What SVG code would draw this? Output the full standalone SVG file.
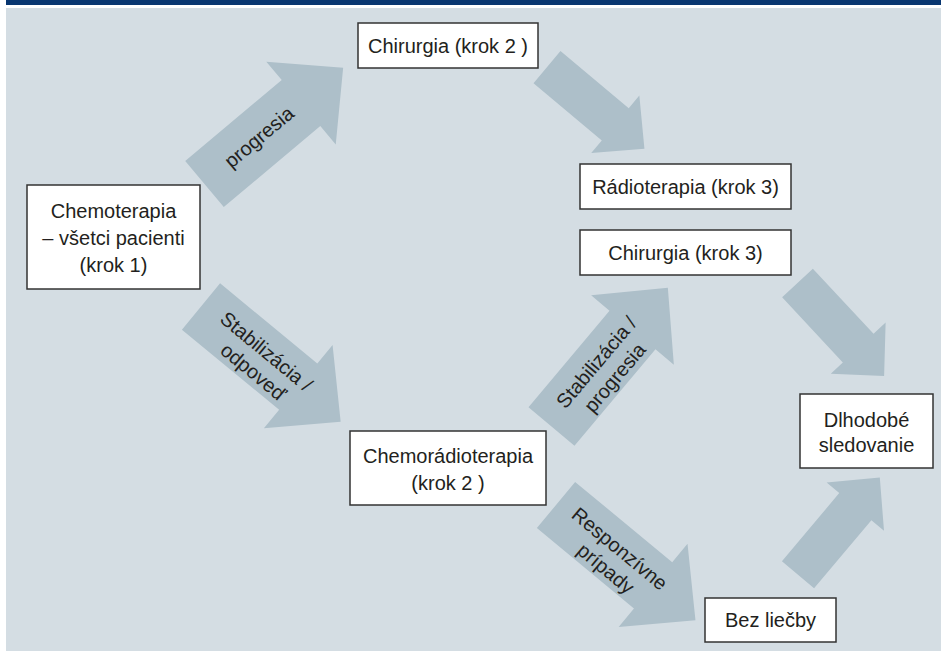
<svg xmlns="http://www.w3.org/2000/svg" xmlns:xlink="http://www.w3.org/1999/xlink" width="941" height="651" viewBox="0 0 941 651">
  <style>
    .bg{fill:#d4dde3}
    .hdr{fill:#083670}
    .box{fill:#ffffff;stroke:#333333;stroke-width:1.5}
    .arr{fill:#adbfc9}
    .t{font-family:"Liberation Sans",Arial,Helvetica,sans-serif;font-size:20px;fill:#231f20;text-anchor:middle}
  </style>
  <defs>
    <polygon id="bigArrow" points="0,-30 126,-30 126,-54 181,0 126,54 126,30 0,30"/>
    <polygon id="smallArrow" points="0,-21 89,-21 89,-37.5 127,0 89,37.5 89,21 0,21"/>
  </defs>

  <rect x="0" y="0" width="941" height="651" fill="#ffffff"/>
  <rect class="hdr" x="6" y="0" width="935" height="5"/>
  <rect class="bg" x="6" y="8" width="935" height="643"/>

  <g id="connectors">
    <g id="c-progresia" transform="translate(204.5,184) rotate(-40)">
      <use xlink:href="#bigArrow" href="#bigArrow" class="arr"/>
      <text class="t" x="72" y="6">progresia</text>
    </g>
    <g id="c-stab-odp" transform="translate(201,306.5) rotate(39.5)">
      <use xlink:href="#bigArrow" href="#bigArrow" class="arr"/>
      <text class="t" x="79" y="0">Stabilizácia /</text>
      <text class="t" x="82" y="24">odpoveď</text>
    </g>
    <g id="c-stab-prog" transform="translate(551.5,426.5) rotate(-50)">
      <use xlink:href="#bigArrow" href="#bigArrow" class="arr"/>
      <text class="t" x="78" y="0">Stabilizácia /</text>
      <text class="t" x="78" y="24">progresia</text>
    </g>
    <g id="c-resp" transform="translate(556,505) rotate(39.6)">
      <use xlink:href="#bigArrow" href="#bigArrow" class="arr"/>
      <text class="t" x="77" y="0">Responzívne</text>
      <text class="t" x="79" y="24">prípady</text>
    </g>
    <g id="c-chir2-radio" transform="translate(547,67.2) rotate(39.9)">
      <use xlink:href="#smallArrow" href="#smallArrow" class="arr"/>
    </g>
    <g id="c-chir3-dlh" transform="translate(797.5,283) rotate(47)">
      <use xlink:href="#smallArrow" href="#smallArrow" class="arr"/>
    </g>
    <g id="c-bez-dlh" transform="translate(798,574.7) rotate(-49.9)">
      <use xlink:href="#smallArrow" href="#smallArrow" class="arr"/>
    </g>
  </g>

  <g id="n-chemo">
    <rect class="box" x="27" y="185" width="173" height="104"/>
    <text class="t" x="113.5" y="218">Chemoterapia</text>
    <text class="t" x="113.5" y="245">– všetci pacienti</text>
    <text class="t" x="113.5" y="272">(krok 1)</text>
  </g>
  <g id="n-chir2">
    <rect class="box" x="358" y="23" width="180" height="45"/>
    <text class="t" x="448" y="53">Chirurgia (krok 2 )</text>
  </g>
  <g id="n-radio3">
    <rect class="box" x="580" y="164" width="211" height="45"/>
    <text class="t" x="685.5" y="193.5">Rádioterapia (krok 3)</text>
  </g>
  <g id="n-chir3">
    <rect class="box" x="580" y="230" width="211" height="45"/>
    <text class="t" x="685.5" y="259.5">Chirurgia (krok 3)</text>
  </g>
  <g id="n-chemoradio">
    <rect class="box" x="350" y="431" width="196" height="74"/>
    <text class="t" x="448" y="463">Chemorádioterapia</text>
    <text class="t" x="448" y="490">(krok 2 )</text>
  </g>
  <g id="n-dlh">
    <rect class="box" x="800" y="394" width="133" height="74"/>
    <text class="t" x="866.5" y="427">Dlhodobé</text>
    <text class="t" x="866.5" y="452">sledovanie</text>
  </g>
  <g id="n-bez">
    <rect class="box" x="705" y="598" width="131" height="44"/>
    <text class="t" x="770.5" y="627">Bez liečby</text>
  </g>
</svg>
